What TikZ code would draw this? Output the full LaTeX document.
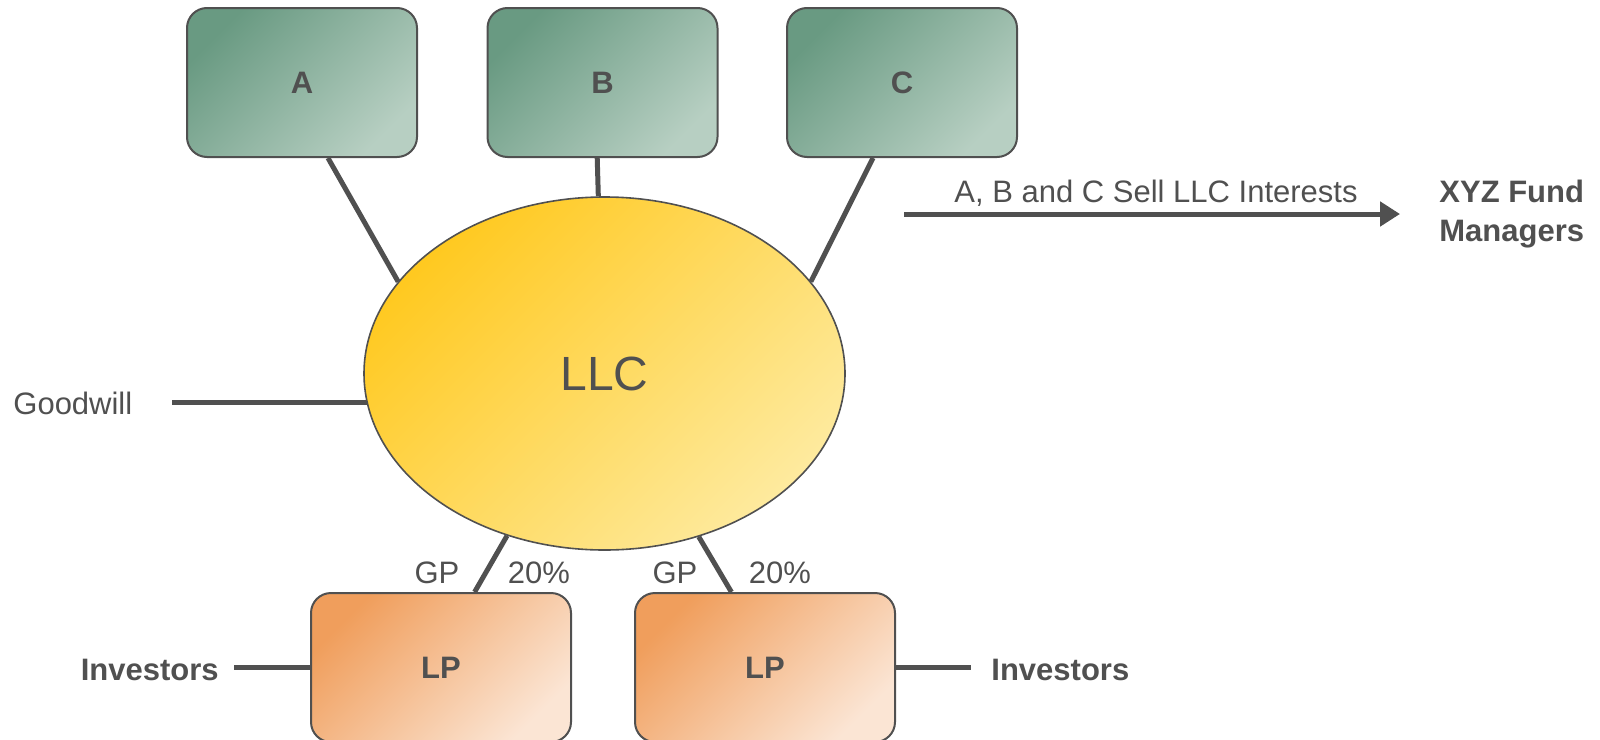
\documentclass[tikz,border=0pt]{standalone}
\usepackage{fontspec}
\setmainfont{Liberation Sans}
\usetikzlibrary{shapes.geometric,arrows.meta}
\definecolor{ink}{HTML}{505050}
\definecolor{gdark}{HTML}{699A82}
\definecolor{glight}{HTML}{B7CFC2}
\definecolor{odark}{HTML}{F09E5C}
\definecolor{olight}{HTML}{FBE5D4}
\definecolor{ydark}{HTML}{FFC920}
\definecolor{ylight}{HTML}{FEEA9E}
\begin{document}
\begin{tikzpicture}[x=0.5pt,y=-0.5pt,
  every node/.style={text=ink, font=\fontsize{15.5}{19.5}\selectfont},
  boxbase/.style={draw=ink, line width=1pt, rounded corners=10pt, inner sep=0pt,
    minimum height=74.5pt, font=\fontsize{15.5}{19.5}\selectfont\bfseries},
  gbox/.style={boxbase, minimum width=115pt, top color=gdark, bottom color=glight, shading angle=45},
  obox/.style={boxbase, minimum width=130pt, top color=odark, bottom color=olight, shading angle=45},
  llc/.style={ellipse, draw=ink, line width=0.8pt, inner sep=0pt, minimum width=240.5pt,
    minimum height=176.5pt, top color=ydark, bottom color=ylight, shading angle=45,
    font=\fontsize{24}{28}\selectfont},
  conn/.style={draw=ink, line width=2.5pt},
  lbl/.style={anchor=base, inner sep=0pt},
  bold/.style={font=\fontsize{15.5}{19.5}\selectfont\bfseries}
]
\useasboundingbox (0,0) rectangle (1600,739);

\node[gbox] (A) at (302,82.5) {A};
\node[gbox] (B) at (602.5,82.5) {B};
\node[gbox] (C) at (902,82.5) {C};
\node[llc] (LLC) at (604.5,373.5) {LLC};
\node[obox] (LP1) at (441,667.5) {LP};
\node[obox] (LP2) at (765,667.5) {LP};

\draw[conn] (A.-71) -- (LLC.156);
\draw[conn] (B.-94) -- (LLC.92);
\draw[conn] (C.-111) -- (LLC.24);
\draw[conn] (LLC.239) -- (LP1.66);
\draw[conn] (LLC.-60) -- (LP2.114);

\node[anchor=base west, inner sep=0pt] (gw) at (13,414) {Goodwill};
\coordinate (gwend) at (172,405);
\draw[conn] (LLC.187.6 -| gwend) -- (LLC.187.6);

\node[lbl] (gp1) at (437,583) {GP};
\node[lbl] (pc1) at (539,583) {20\%};
\node[lbl] (gp2) at (675,583) {GP};
\node[lbl] (pc2) at (780,583) {20\%};

\node[anchor=base east, inner sep=0pt, bold] (inv1) at (219,680) {Investors};
\node[anchor=base west, inner sep=0pt, bold] (inv2) at (991,680) {Investors};
\draw[conn, shorten >=7.5pt] (LP1.west) -- (LP1.west -| inv1.east);
\draw[conn, shorten >=10pt] (LP2.east) -- (LP2.east -| inv2.west);

\coordinate (as) at (904,214);
\coordinate (ae) at (1400,214);
\draw[conn, -{Triangle[length=10pt,width=12pt]}] (as) -- (ae);
\node[lbl] (sell) at (1156,202) {A, B and C Sell LLC Interests};
\node[anchor=base west, align=left, inner sep=0pt, bold] (xyz) at (1439,241) {XYZ Fund\\Managers};
\end{tikzpicture}
\end{document}
